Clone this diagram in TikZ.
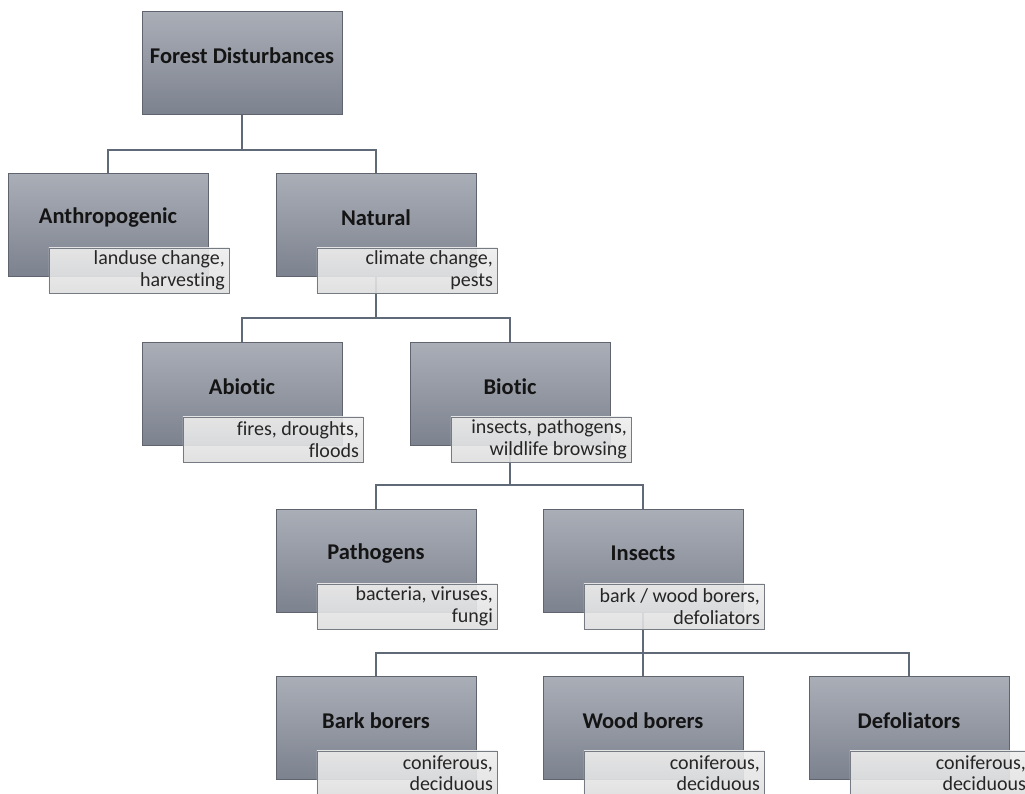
\documentclass[tikz,border=0pt]{standalone}
\usepackage{fontspec}
\setmainfont{Carlito}[Ligatures=NoCommon]
\definecolor{boxtop}{RGB}{170,174,183}
\definecolor{boxbot}{RGB}{124,130,142}
\definecolor{boxline}{RGB}{95,100,110}
\definecolor{subtop}{RGB}{238,238,238}
\definecolor{subbot}{RGB}{222,222,222}
\definecolor{subline}{RGB}{118,122,130}
\definecolor{conn}{RGB}{95,105,120}
\tikzset{
  titletext/.style={font=\fontsize{22.5}{24}\selectfont\bfseries, text=black!92},
  mainbox/.style={draw=boxline, line width=1pt, top color=boxtop, bottom color=boxbot,
    minimum width=200pt, minimum height=103pt, inner sep=0pt,
    label={[titletext, yshift=7pt]center:#1}},
  subbox/.style={draw=subline, line width=0.8pt, top color=subtop, bottom color=subbot,
    fill opacity=0.9, draw opacity=1, text opacity=1,
    minimum width=180pt, minimum height=45pt, text width=172pt, align=flush right,
    inner xsep=4pt, inner ysep=1pt, anchor=north west,
    font=\fontsize{20}{21.5}\selectfont, text=black!85},
  connector/.style={draw=conn, line width=1.2pt},
}
\begin{document}
\begin{tikzpicture}[x=1pt, y=1pt]
\useasboundingbox (0,0) rectangle (1025,-793);
\clip (0,0) rectangle (1025,-793);
% main boxes
\node[mainbox=Forest Disturbances] (fd) at (242,-62.5) {};
\node[mainbox=Anthropogenic] (anth) at (108,-224.5) {};
\node[mainbox=Natural] (nat) at (376,-224.5) {};
\node[mainbox=Abiotic] (abio) at (242,-393.5) {};
\node[mainbox=Biotic] (bio) at (510,-393.5) {};
\node[mainbox=Pathogens] (path) at (376,-560.5) {};
\node[mainbox=Insects] (ins) at (643,-560.5) {};
\node[mainbox=Bark borers] (bark) at (376,-727.5) {};
\node[mainbox=Wood borers] (wood) at (643,-727.5) {};
\node[mainbox=Defoliators] (defo) at (909,-727.5) {};
% junctions
\coordinate (j1) at (242,-150);
\coordinate (j2) at (376,-318);
\coordinate (j3) at (510,-485);
\coordinate (j4) at (643,-653);
% connectors
\draw[connector] (fd.south) -- (j1) -| (anth.north);
\draw[connector] (j1) -| (nat.north);
\draw[connector] (nat.south) -- (j2) -| (abio.north);
\draw[connector] (j2) -| (bio.north);
\draw[connector] (bio.south) -- (j3) -| (path.north);
\draw[connector] (j3) -| (ins.north);
\draw[connector] (ins.south) -- (j4) -| (bark.north);
\draw[connector] (j4) -- (wood.north);
\draw[connector] (j4) -| (defo.north);
% sub boxes
\node[subbox] (anths) at ([xshift=41pt,yshift=-75pt]anth.north west) {landuse change,\\harvesting};
\node[subbox] (nats) at ([xshift=41pt,yshift=-75pt]nat.north west) {climate change,\\pests};
\node[subbox] (abios) at ([xshift=41pt,yshift=-75pt]abio.north west) {fires, droughts,\\floods};
\node[subbox] (bios) at ([xshift=41pt,yshift=-75pt]bio.north west) {insects, pathogens,\\wildlife browsing};
\node[subbox] (paths) at ([xshift=41pt,yshift=-75pt]path.north west) {bacteria, viruses,\\fungi};
\node[subbox] (inss) at ([xshift=41pt,yshift=-75pt]ins.north west) {bark / wood borers,\\defoliators};
\node[subbox] (barks) at ([xshift=41pt,yshift=-75pt]bark.north west) {coniferous,\\deciduous};
\node[subbox] (woods) at ([xshift=41pt,yshift=-75pt]wood.north west) {coniferous,\\deciduous};
\node[subbox] (defos) at ([xshift=41pt,yshift=-75pt]defo.north west) {coniferous,\\deciduous};
\end{tikzpicture}
\end{document}
